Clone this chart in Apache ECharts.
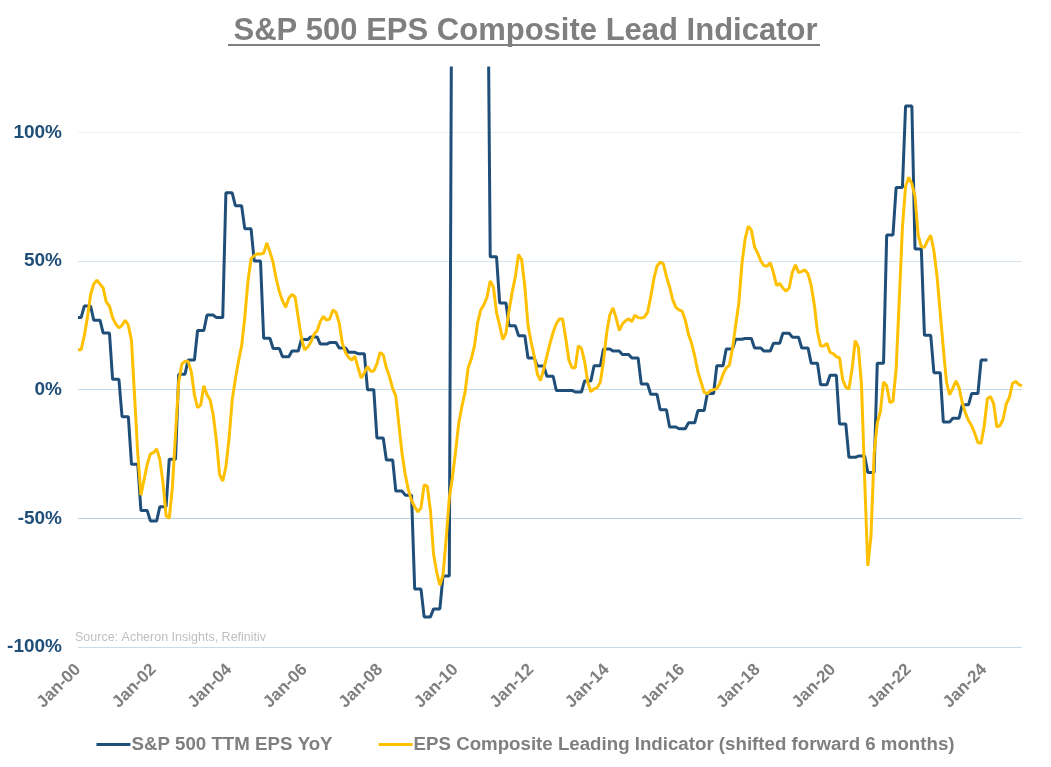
<!DOCTYPE html>
<html>
<head>
<meta charset="utf-8">
<script src="https://cdn.jsdelivr.net/npm/echarts@6/dist/echarts.min.js"></script>
<style>
html,body{margin:0;padding:0;background:#fff;}
#chart{width:1051px;height:767px;}
</style>
</head>
<body>
<div id="chart"></div>
<script>
// ---- Data ----
const titleText = 'S&P 500 EPS Composite Lead Indicator';
const sourceText = 'Source: Acheron Insights, Refinitiv';
const seriesNames = ['S&P 500 TTM EPS YoY', 'EPS Composite Leading Indicator (shifted forward 6 months)'];
const monthNames = ['Jan','Feb','Mar','Apr','May','Jun','Jul','Aug','Sep','Oct','Nov','Dec'];
const startYear = 2000, endYear = 2025; // categories Jan-00 .. Jan-25 (monthly)
const yTicks = [-100, -50, 0, 50, 100];

// S&P 500 TTM EPS YoY (%), monthly from Jan-00 (quarterly steps)
const epsYoY = [
  28, 28,
  32.5, 32.5, 32.5, 27, 27, 27, 22, 22, 22, 4, 4, 4,
  -10.5, -10.5, -10.5, -29, -29, -29, -47, -47, -47, -51, -51, -51,
  -45.5, -45.5, -45.5, -27, -27, -27, 6, 6, 6, 11.5, 11.5, 11.5,
  23, 23, 23, 29, 29, 29, 28, 28, 28, 76.5, 76.5, 76.5,
  71.5, 71.5, 71.5, 62.5, 62.5, 62.5, 50, 50, 50, 20, 20, 20,
  16, 16, 16, 12.8, 12.8, 12.8, 15, 15, 15, 19.5, 19.5, 19.5,
  20.5, 20.5, 20.5, 17.7, 17.7, 17.7, 18.3, 18.3, 18.3, 16.2, 16.2, 16.2,
  14.5, 14.5, 14.5, 14, 14, 14, 0, 0, 0, -18.8, -18.8, -18.8,
  -27.3, -27.3, -27.3, -39.4, -39.4, -39.4, -41, -41, -41, -77.5, -77.5, -77.5,
  -88.3, -88.3, -88.3, -85.2, -85.2, -85.2, -72.4, -72.4, -72.4, 240, 240, 240,
  310, 310, 310, 290, 290, 290, 200, 200, 200, 51.7, 51.7, 51.7,
  33.7, 33.7, 33.7, 24.8, 24.8, 24.8, 21, 21, 21, 12.3, 12.3, 12.3,
  9.2, 9.2, 9.2, 5.2, 5.2, 5.2, -0.3, -0.3, -0.3, -0.3, -0.3, -0.3,
  -0.9, -0.9, -0.9, 3.4, 3.4, 3.4, 9.3, 9.3, 9.3, 15.8, 15.8, 15.8,
  15, 15, 15, 13.7, 13.7, 13.7, 12.3, 12.3, 12.3, 2.2, 2.2, 2.2,
  -1.8, -1.8, -1.8, -7.8, -7.8, -7.8, -14.5, -14.5, -14.5, -15.2, -15.2, -15.2,
  -12.9, -12.9, -12.9, -8.1, -8.1, -8.1, -1.5, -1.5, -1.5, 9.3, 9.3, 9.3,
  15.8, 15.8, 15.8, 19.6, 19.6, 19.6, 19.9, 19.9, 19.9, 16.2, 16.2, 16.2,
  15, 15, 15, 18, 18, 18, 21.9, 21.9, 21.9, 20.4, 20.4, 20.4,
  16.2, 16.2, 16.2, 10.3, 10.3, 10.3, 1.9, 1.9, 1.9, 5.6, 5.6, 5.6,
  -13.3, -13.3, -13.3, -26.3, -26.3, -26.3, -25.8, -25.8, -25.8, -32.2, -32.2, -32.2,
  10.3, 10.3, 10.3, 60.1, 60.1, 60.1, 78.6, 78.6, 78.6, 110.2, 110.2, 110.2,
  54.7, 54.7, 54.7, 21.1, 21.1, 21.1, 6.6, 6.6, 6.6, -12.6, -12.6, -12.6,
  -11.1, -11.1, -11.1, -5.9, -5.9, -5.9, -1.5, -1.5, -1.5, 11.5, 11.5, 11.5
];

// EPS Composite Leading Indicator (%), shifted forward 6 months, monthly from Jan-00
const leadIndicator = [
  15.5, 15.5, 21, 28, 37, 41, 42.5, 41, 39.5, 34, 32.5, 28,
  25.5, 24, 25, 27, 25, 19, -3, -25, -41, -35, -29, -25,
  -24.5, -23, -27, -36, -49, -50, -38, -17, 3, 10, 11, 11,
  7, -2, -7, -6, 1.5, -2, -4, -10, -20, -33, -35.5, -30,
  -19, -4, 4, 11, 17, 28, 42, 51, 52, 52.8, 52.7, 53,
  57, 53.5, 49.5, 43, 38, 34.5, 32, 35.5, 37, 36, 28, 20,
  15.5, 16.5, 18.5, 21.5, 22.9, 26.5, 28.5, 27, 27.5, 31, 30, 26,
  18, 14.5, 12.5, 11.5, 13, 8.5, 4.5, 6.5, 9, 7.2, 7.3, 10,
  14.5, 13.5, 8.5, 5, 0.5, -2.5, -14, -25, -33, -39, -43, -45.5,
  -47.5, -46, -37, -37.5, -47, -64, -71, -76, -72, -58, -42, -34,
  -24, -13, -6.5, -1, 8.5, 12, 17, 26, 31, 33, 36, 42.2,
  40, 30, 25, 19.5, 22, 31, 38, 44, 52.5, 50.5, 40, 25,
  18.5, 13, 6, 3.5, 8, 13, 18, 22.3, 25.6, 27.5, 27.5, 20,
  11.5, 8.5, 8.5, 17, 16, 11, 3, -0.8, 0.3, 0.8, 3, 11,
  22, 29, 31.8, 28, 23, 25.5, 26.8, 27.5, 26.5, 29, 28, 27.8,
  28.2, 30, 36, 43, 48, 49.5, 49, 44, 40, 35, 32, 31,
  30.5, 27, 21.5, 18, 13, 7, 3, -1, -1.5, -0.4, 0, 0.4,
  2.5, 6, 8.5, 9.5, 16, 25, 33.5, 49, 58.5, 63.5, 62, 55.5,
  53, 50, 48.2, 48, 49.3, 45.5, 40.5, 41.3, 39.5, 38.3, 39.5, 45.5,
  48.5, 45.5, 46, 46.5, 45, 40.5, 33, 22.5, 17, 17, 18, 14.5,
  14, 12.8, 12.4, 4, 1, 0.3, 8, 19, 16.5, 1.8, -35, -68.5,
  -57, -25, -13, -8.5, 3, 1.5, -5, -4.5, 8, 35, 63, 79,
  82.5, 80, 75, 60, 55.6, 55.3, 58, 60, 54, 44, 30, 16,
  3, -2, 0.5, 3.4, 0.8, -5, -9, -12, -14, -17, -20.5, -20.8,
  -14, -3.5, -2.7, -5.5, -14.5, -14, -11.5, -5.5, -3, 2.5, 3.2, 2,
  1.5
];

// ---- Build category labels ----
const categories = [];
for (let y = startYear; y <= endYear; y++) {
  for (let m = 0; m < 12; m++) {
    if (y === endYear && m > 0) break;
    categories.push(monthNames[m] + '-' + String(y % 100).padStart(2, '0'));
  }
}

const FONT = '"Liberation Sans", Arial, sans-serif';
const chart = echarts.init(document.getElementById('chart'), null, {renderer: 'canvas'});
chart.setOption({
  animation: false,
  backgroundColor: '#ffffff',
  title: {
    text: titleText,
    left: 'center',
    top: 11,
    textStyle: {fontFamily: FONT, fontSize: 31, fontWeight: 'bold', color: '#7f7f7f'}
  },
  graphic: [
    {type: 'line', shape: {x1: 228, y1: 45, x2: 820, y2: 45}, style: {stroke: '#7f7f7f', lineWidth: 2}},
    {type: 'text', left: 75, top: 631, style: {text: sourceText, fill: '#bfbfbf', font: '12.5px ' + FONT}}
  ],
  legend: {
    data: seriesNames,
    left: 'center',
    top: 730,
    icon: 'rect',
    itemWidth: 34,
    itemHeight: 3,
    itemGap: 46,
    textStyle: {fontFamily: FONT, fontSize: 18.7, fontWeight: 'bold', color: '#7f7f7f', padding: [0, 0, 0, -4]}
  },
  grid: {left: 78, right: 29, top: 68, bottom: 120, containLabel: false},
  xAxis: {
    type: 'category',
    data: categories,
    boundaryGap: false,
    axisLine: {show: false},
    axisTick: {show: false},
    splitLine: {show: false},
    axisLabel: {
      interval: (i) => i % 24 === 0,
      rotate: 45,
      margin: 20,
      fontFamily: FONT,
      fontSize: 17,
      fontWeight: 'bold',
      color: '#7f7f7f'
    }
  },
  yAxis: {
    type: 'value',
    min: -100,
    max: 125,
    interval: 50,
    axisLine: {show: false},
    axisTick: {show: false},
    axisLabel: {
      margin: 16,
      fontFamily: FONT,
      fontSize: 19,
      fontWeight: 'bold',
      color: '#1f4e79',
      formatter: (v) => (yTicks.indexOf(v) >= 0 ? v + '%' : '')
    },
    splitLine: {
      lineStyle: {
        width: 1,
        color: ['#c6dbed', '#b8d0e6', '#c2d8ec', '#d7e5f1', '#eef3f8', 'rgba(0,0,0,0)']
      }
    }
  },
  series: [
    {
      name: seriesNames[0],
      type: 'line',
      data: epsYoY,
      symbol: 'none',
      lineStyle: {color: '#1f4e79', width: 3},
      itemStyle: {color: '#1f4e79'},
      z: 2
    },
    {
      name: seriesNames[1],
      type: 'line',
      data: leadIndicator,
      symbol: 'none',
      lineStyle: {color: '#ffc000', width: 3},
      itemStyle: {color: '#ffc000'},
      z: 3
    }
  ]
});
</script>
</body>
</html>
